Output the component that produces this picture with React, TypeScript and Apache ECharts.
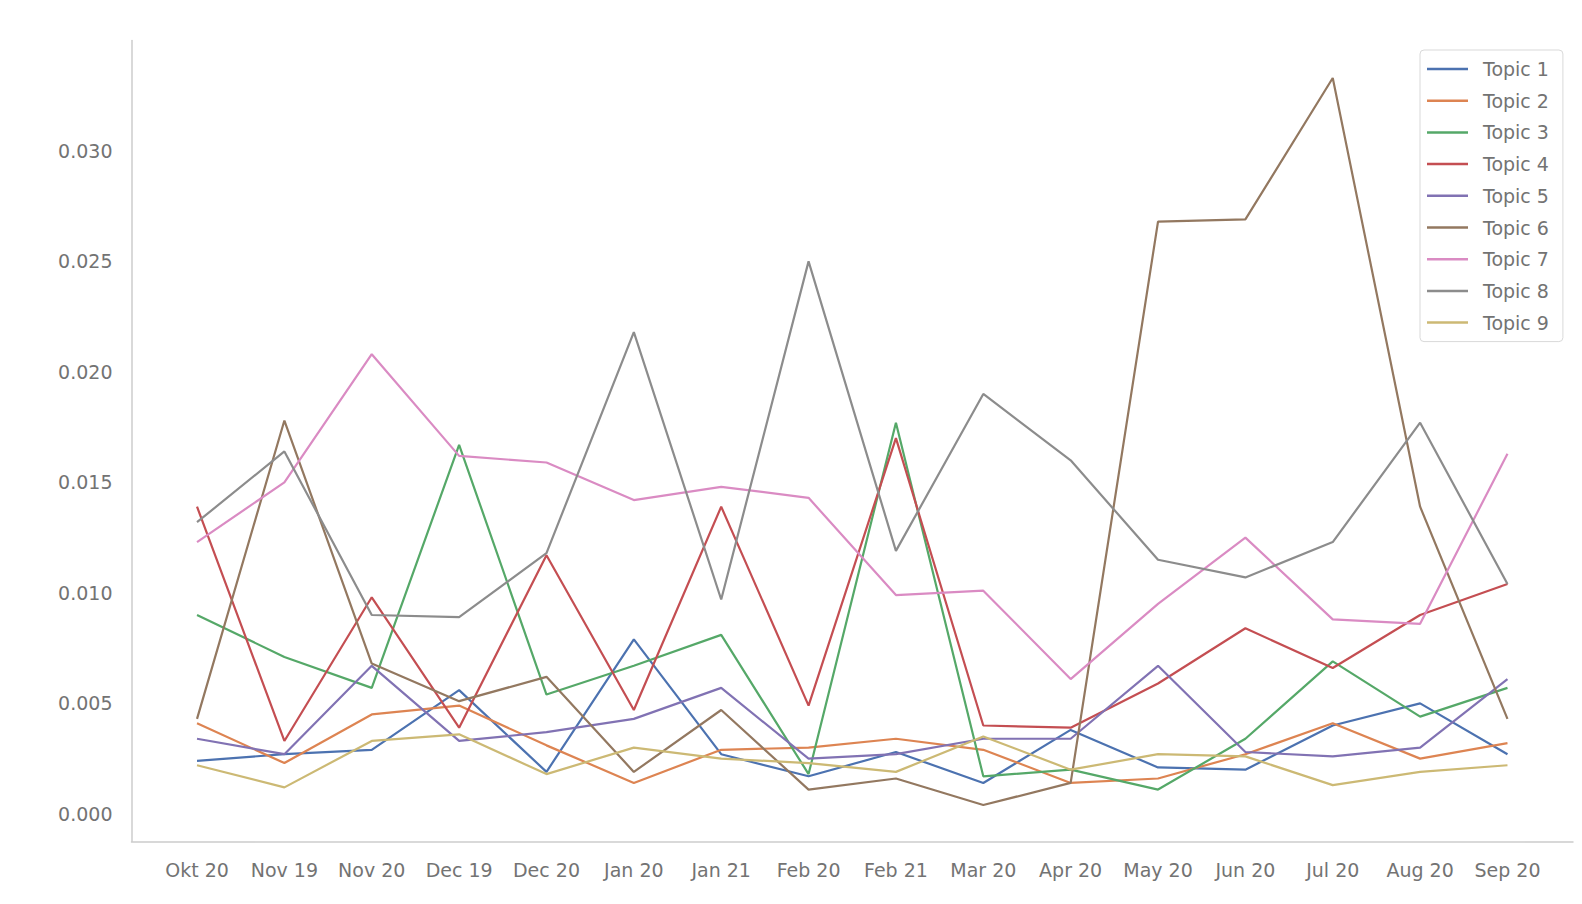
import React, { useEffect, useRef } from "react";
import * as echarts from "echarts";

const categories = ["Okt 20", "Nov 19", "Nov 20", "Dec 19", "Dec 20", "Jan 20", "Jan 21", "Feb 20", "Feb 21", "Mar 20", "Apr 20", "May 20", "Jun 20", "Jul 20", "Aug 20", "Sep 20"];

const topic1 = [0.0024, 0.0027, 0.0029, 0.0056, 0.0019, 0.0079, 0.0027, 0.0017, 0.0028, 0.0014, 0.0038, 0.0021, 0.0020, 0.0040, 0.0050, 0.0027];
const topic2 = [0.0041, 0.0023, 0.0045, 0.0049, 0.0031, 0.0014, 0.0029, 0.0030, 0.0034, 0.0029, 0.0014, 0.0016, 0.0027, 0.0041, 0.0025, 0.0032];
const topic3 = [0.0090, 0.0071, 0.0057, 0.0167, 0.0054, 0.0067, 0.0081, 0.0018, 0.0177, 0.0017, 0.0020, 0.0011, 0.0034, 0.0069, 0.0044, 0.0057];
const topic4 = [0.0139, 0.0033, 0.0098, 0.0039, 0.0117, 0.0047, 0.0139, 0.0049, 0.0170, 0.0040, 0.0039, 0.0059, 0.0084, 0.0066, 0.0090, 0.0104];
const topic5 = [0.0034, 0.0027, 0.0067, 0.0033, 0.0037, 0.0043, 0.0057, 0.0025, 0.0027, 0.0034, 0.0034, 0.0067, 0.0028, 0.0026, 0.0030, 0.0061];
const topic6 = [0.0043, 0.0178, 0.0068, 0.0051, 0.0062, 0.0019, 0.0047, 0.0011, 0.0016, 0.0004, 0.0014, 0.0268, 0.0269, 0.0333, 0.0139, 0.0043];
const topic7 = [0.0123, 0.0150, 0.0208, 0.0162, 0.0159, 0.0142, 0.0148, 0.0143, 0.0099, 0.0101, 0.0061, 0.0095, 0.0125, 0.0088, 0.0086, 0.0163];
const topic8 = [0.0132, 0.0164, 0.0090, 0.0089, 0.0118, 0.0218, 0.0097, 0.0250, 0.0119, 0.0190, 0.0160, 0.0115, 0.0107, 0.0123, 0.0177, 0.0104];
const topic9 = [0.0022, 0.0012, 0.0033, 0.0036, 0.0018, 0.0030, 0.0025, 0.0023, 0.0019, 0.0035, 0.0020, 0.0027, 0.0026, 0.0013, 0.0019, 0.0022];

const seriesNames = ["Topic 1", "Topic 2", "Topic 3", "Topic 4", "Topic 5", "Topic 6", "Topic 7", "Topic 8", "Topic 9"];
const seriesValues = [topic1, topic2, topic3, topic4, topic5, topic6, topic7, topic8, topic9];
const yTicks = [0.0, 0.005, 0.01, 0.015, 0.02, 0.025, 0.03];
const colors = ["#4C72B0", "#DD8452", "#55A868", "#C44E52", "#8172B3", "#937860", "#DA8BC3", "#8C8C8C", "#CCB974"];

const FONT = "DejaVu Sans";
const TEXT = "#737373";

export default function App() {
  const ref = useRef<HTMLDivElement>(null);
  useEffect(() => {
    if (!ref.current) return;
    const chart = echarts.init(ref.current, undefined, { renderer: "svg" });
    chart.setOption({
      animation: false,
      color: colors,
      textStyle: { fontFamily: FONT },
      grid: { left: 131.5, right: 9, top: 40.4, bottom: 62.5, containLabel: false },
      xAxis: {
        type: "value",
        min: -0.75,
        max: 15.75,
        interval: 0.25,
        axisLine: { show: true, onZero: false, lineStyle: { color: "#cccccc", width: 1.5 } },
        axisTick: { show: false },
        splitLine: { show: false },
        axisLabel: {
          margin: 19,
          color: TEXT,
          fontSize: 19,
          fontFamily: FONT,
          showMinLabel: true,
          showMaxLabel: true,
          formatter: (v: number) => {
            const r = Math.round(v);
            return Math.abs(v - r) < 1e-6 && r >= 0 && r < categories.length ? categories[r] : "";
          },
        },
      },
      yAxis: {
        type: "value",
        min: -0.00125,
        max: 0.035,
        interval: 0.00025,
        axisLine: { show: true, onZero: false, lineStyle: { color: "#cccccc", width: 1.5 } },
        axisTick: { show: false },
        splitLine: { show: false },
        axisLabel: {
          margin: 19,
          color: TEXT,
          fontSize: 19,
          fontFamily: FONT,
          formatter: (v: number) => {
            const t = yTicks.find((y) => Math.abs(y - v) < 1e-9);
            return t === undefined ? "" : t.toFixed(3);
          },
        },
      },
      legend: {
        orient: "vertical",
        left: 1420,
        top: 50,
        padding: [9, 14, 9, 7],
        backgroundColor: "rgba(255,255,255,0.85)",
        borderColor: "#d9d9d9",
        borderWidth: 1,
        borderRadius: 4,
        icon: "rect",
        itemWidth: 41,
        itemHeight: 2.5,
        itemGap: 11.7,
        textStyle: {
          color: TEXT,
          fontSize: 19,
          fontFamily: FONT,
          lineHeight: 20,
          padding: [0, 0, 0, 10],
        },
        data: seriesNames,
      },
      series: seriesNames.map((name, s) => ({
        name,
        type: "line",
        showSymbol: false,
        symbol: "none",
        lineStyle: { width: 2.2 },
        data: seriesValues[s].map((v, i) => [i, v]),
      })),
    });
    return () => chart.dispose();
  }, []);
  return (
    <div
      ref={ref}
      style={{ position: "fixed", left: 0, top: 0, width: 1582, height: 904, background: "#ffffff" }}
    />
  );
}
